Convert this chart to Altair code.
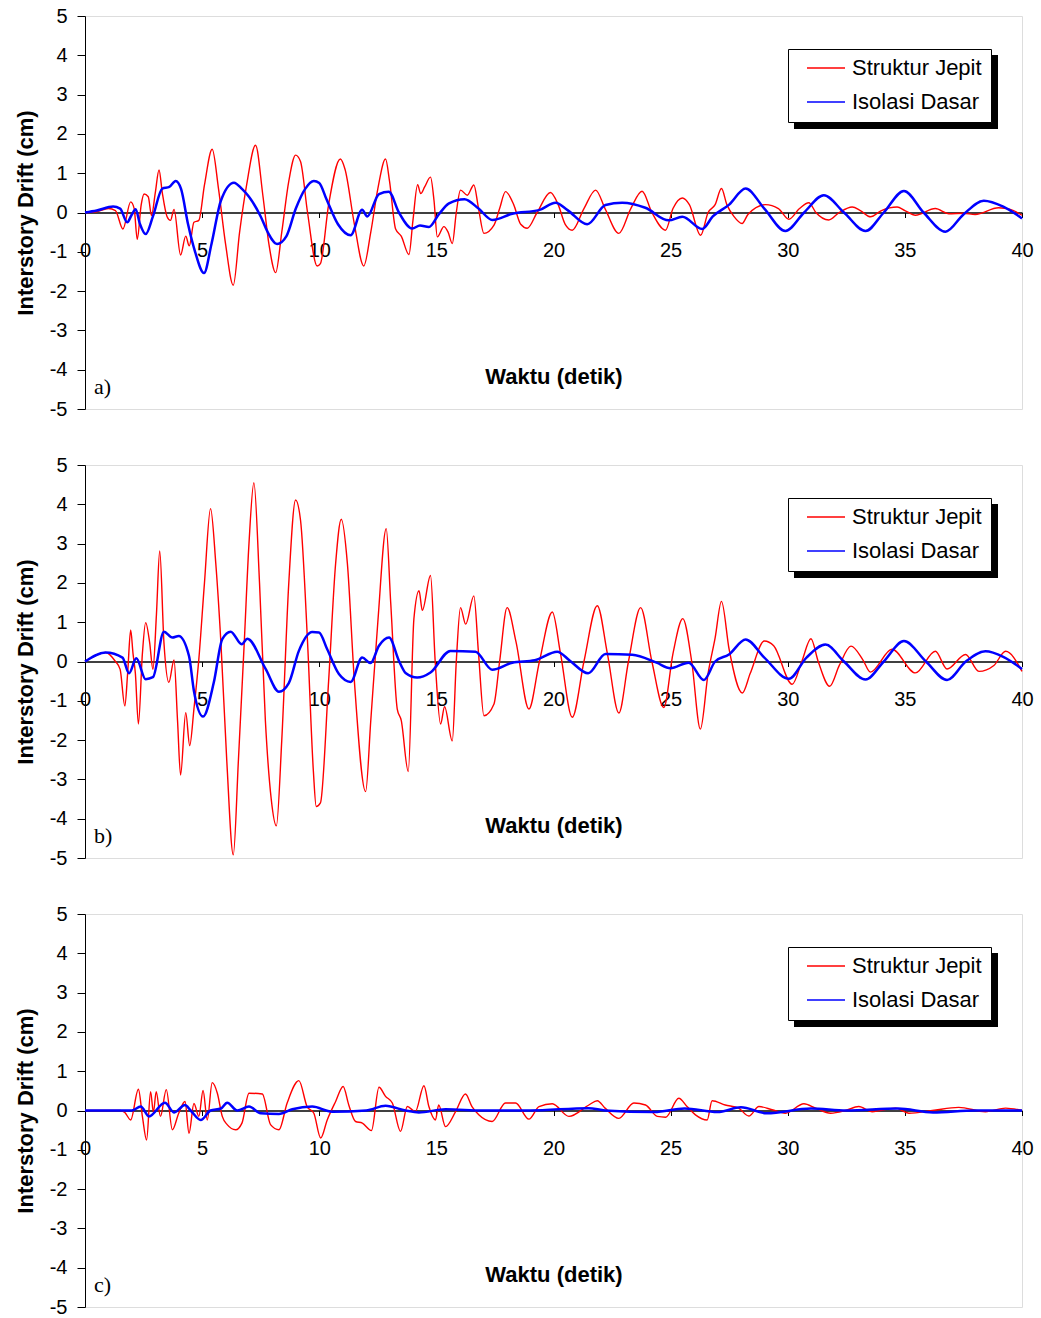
import altair as alt
import pandas as pd

# ---------------- data ----------------
SERIES = ["Struktur Jepit", "Isolasi Dasar"]
COLORS = ["#ff0000", "#0000ff"]
X_TICKS = [0, 5, 10, 15, 20, 25, 30, 35, 40]
Y_TICKS = [-5, -4, -3, -2, -1, 0, 1, 2, 3, 4, 5]
PANEL_TAGS = ["a)", "b)", "c)"]

# panel a) - Struktur Jepit
a_red_t = [0, 0.5, 1.0, 1.3, 1.62, 1.95, 2.1, 2.23, 2.4, 2.52, 2.7, 2.84, 3.0, 3.16, 3.3, 3.5, 3.65, 3.8,
           4.08, 4.3, 4.45, 4.65, 4.86, 5.1, 5.43, 5.7, 6.0, 6.33, 6.6, 6.9, 7.28, 7.6, 7.85, 8.14, 8.4,
           8.7, 8.99, 9.2, 9.5, 9.91, 10.05, 10.4, 10.9, 11.1, 11.5, 11.9, 12.2, 12.5, 12.83, 13.0, 13.26,
           13.5, 13.83, 14.0, 14.2, 14.33, 14.5, 14.75, 14.9, 15.04, 15.32, 15.5, 15.68, 15.85, 16.03,
           16.32, 16.6, 16.8, 17.03, 17.46, 17.7, 17.95, 18.3, 18.6, 18.88, 19.3, 19.87, 20.2, 20.5, 20.8,
           21.3, 21.8, 22.2, 22.79, 23.3, 23.78, 24.2, 24.78, 25.1, 25.5, 25.8, 26.28, 26.6, 26.9, 27.17,
           27.4, 27.7, 28.05, 28.3, 29.05, 29.6, 30.05, 30.5, 30.9, 31.2, 31.75, 32.2, 32.75, 33.1, 33.53,
           34.0, 34.67, 35.0, 35.45, 36.3, 36.87, 37.5, 38.0, 39.0, 39.5, 40.0]
a_red_v = [0, 0.02, 0.1, 0.05, -0.42, 0.27, 0.1, -0.68, 0.2, 0.47, 0.4, -0.08, 0.5, 1.08, 0.5, -0.1, -0.2, 0.08,
           -1.08, -0.6, -0.85, -0.25, -0.2, 0.7, 1.61, 0.6, -0.8, -1.85, -0.5, 0.7, 1.71, 0.4, -0.8, -1.53, -0.5,
           0.8, 1.46, 1.3, 0.0, -1.36, -1.3, 0.2, 1.36, 1.1, -0.3, -1.36, -0.5, 0.6, 1.36, 0.8, -0.42,
           -0.6, -1.07, -0.2, 0.71, 0.48, 0.65, 0.9, 0.3, -0.62, -0.36, -0.5, -0.79, 0.0, 0.57,
           0.44, 0.7, 0.1, -0.53, -0.32, 0.1, 0.53, 0.2, -0.3, -0.4, 0.0, 0.51, 0.2, -0.3, -0.45,
           0.1, 0.57, 0.1, -0.53, 0.1, 0.54, 0.0, -0.45, 0.1, 0.37, 0.2, -0.58, 0.0, 0.2, 0.61,
           0.2, -0.1, -0.28, -0.05, 0.2, 0.1, -0.17, 0.1, 0.25, 0.0, -0.19, 0.0, 0.14, 0.05, -0.11,
           0.05, 0.14, 0.05, -0.07, 0.1, -0.03, -0.02, -0.05, 0.12, 0.08, -0.07]

# panel a) - Isolasi Dasar
a_blue_t = [0, 0.5, 1.2, 1.5, 1.8, 2.0, 2.16, 2.35, 2.59, 2.9, 3.3, 3.6, 3.87, 4.1, 4.4, 4.7, 5.08, 5.4, 5.8,
            6.36, 6.7, 7.0, 7.5, 7.8, 8.2, 8.6, 9.0, 9.4, 9.77, 10.0, 10.3, 10.8, 11.34, 11.83, 12.05, 12.55,
            12.97, 13.4, 13.97, 14.3, 14.68, 15.1, 15.54, 16.2, 16.8, 17.39, 18.24, 19.38, 20.09, 20.6, 21.44,
            22.22, 22.93, 23.92, 24.92, 25.5, 26.35, 26.8, 27.5, 28.2, 29.0, 29.9, 30.7, 31.54, 32.4, 33.32,
            34.1, 34.96, 35.8, 36.73, 37.5, 38.37, 39.2, 40.0]
a_blue_v = [0, 0.05, 0.15, 0.1, -0.25, -0.05, 0.08, -0.3, -0.55, -0.1, 0.61, 0.65, 0.8, 0.6, -0.3, -1.0, -1.54, -0.8, 0.3,
            0.76, 0.6, 0.4, -0.1, -0.5, -0.8, -0.6, 0.1, 0.6, 0.8, 0.75, 0.35, -0.3, -0.58, 0.07, -0.1, 0.47,
            0.53, 0.0, -0.41, -0.33, -0.37, -0.05, 0.23, 0.34, 0.1, -0.19, -0.03, 0.06, 0.25, 0.06, -0.3,
            0.19, 0.25, 0.12, -0.2, -0.11, -0.42, -0.1, 0.2, 0.61, 0.1, -0.47, 0.0, 0.44, 0.0, -0.47,
            0.0, 0.55, 0.0, -0.49, -0.05, 0.3, 0.15, -0.15]

# panel b) - Struktur Jepit
b_red_t = [0, 0.88, 1.3, 1.5, 1.7, 1.82, 1.95, 2.05, 2.15, 2.28, 2.45, 2.59, 2.76, 2.9, 3.05, 3.19, 3.37, 3.58,
           3.8, 3.95, 4.08, 4.3, 4.47, 4.65, 4.86, 5.1, 5.36, 5.58, 5.8, 6.05, 6.33, 6.55, 6.8, 7.0, 7.21,
           7.45, 7.7, 7.95, 8.17, 8.4, 8.7, 8.99, 9.2, 9.5, 9.75, 9.87, 10.05, 10.4, 10.7, 10.94, 11.2,
           11.5, 11.98, 12.2, 12.5, 12.86, 13.05, 13.33, 13.5, 13.8, 14.04, 14.26, 14.4, 14.75, 14.95,
           15.18, 15.35, 15.68, 15.85, 16.03, 16.25, 16.6, 16.8, 17.03, 17.46, 17.7, 18.02, 18.4, 18.95,
           19.4, 19.95, 20.3, 20.8, 21.3, 21.87, 22.3, 22.79, 23.2, 23.72, 24.2, 24.71, 25.1, 25.52, 25.9,
           26.27, 26.6, 26.9, 27.17, 27.5, 28.06, 28.4, 29.0, 29.4, 30.19, 30.6, 30.99, 31.3, 31.79, 32.2,
           32.7, 33.2, 33.53, 34.45, 35.45, 36.3, 36.8, 37.59, 38.16, 38.8, 39.3, 40.0]
b_red_v = [0, 0.23, 0.0, -0.2, -1.13, -0.3, 0.8, 0.2, -0.3, -1.59, 0.2, 0.99, 0.48, -0.2, 1.2, 2.81, 0.48, -0.53,
           0.04, -1.5, -2.89, -1.3, -2.14, -1.21, 0.06, 2.0, 3.89, 2.52, 0.5, -2.5, -4.92, -2.5, 0.5, 3.0, 4.55,
           2.0, -1.5, -3.5, -4.18, -2.0, 2.0, 4.11, 3.6, 0.5, -2.8, -3.69, -3.6, -0.5, 2.5, 3.62, 2.5,
           -0.5, -3.31, -1.5, 1.0, 3.38, 1.5, -1.21, -1.5, -2.8, 1.08, 1.8, 1.3, 2.19, 0.0,
           -1.59, -1.15, -2.02, 0.0, 1.37, 0.95, 1.67, 0.2, -1.38, -1.08, 0.0, 1.37, 0.5, -1.21,
           0.0, 1.26, 0.2, -1.42, 0.0, 1.42, 0.2, -1.31, 0.0, 1.37, 0.0, -1.17, 0.2, 1.09, 0.0,
           -1.72, -0.3, 0.6, 1.53, 0.3, -0.8, -0.3, 0.52, 0.4, -0.58, 0.0, 0.58, 0.0, -0.63, -0.1,
           0.39, 0.05, -0.27, 0.31, -0.29, 0.26, -0.19, 0.18, -0.25, -0.1, 0.26, -0.25]

# panel b) - Isolasi Dasar
b_blue_t = [0, 0.88, 1.6, 1.88, 2.19, 2.59, 2.9, 3.37, 3.73, 4.0, 4.44, 4.65, 5.04, 5.5, 5.86, 6.22, 6.69, 6.93,
            7.71, 8.28, 8.7, 9.13, 9.7, 9.99, 10.34, 10.84, 11.34, 11.83, 12.19, 12.55, 12.98, 13.4, 13.7,
            14.18, 14.75, 15.6, 16.67, 17.38, 18.24, 19.2, 20.16, 20.7, 21.48, 22.22, 23.36, 24.4, 24.99,
            25.77, 26.42, 26.9, 27.49, 28.2, 29.0, 30.05, 30.8, 31.61, 32.4, 33.32, 34.1, 34.96, 35.9, 36.8,
            37.6, 38.44, 39.2, 40.0]
b_blue_v = [0, 0.23, 0.1, -0.3, 0.08, -0.45, -0.4, 0.76, 0.61, 0.65, 0.14, -0.75, -1.4, -0.53, 0.57, 0.76, 0.44, 0.58,
            -0.19, -0.77, -0.55, 0.27, 0.75, 0.74, 0.31, -0.32, -0.52, 0.1, -0.04, 0.4, 0.61, 0.02, -0.3,
            -0.41, -0.28, 0.27, 0.25, -0.21, -0.03, 0.03, 0.25, 0.02, -0.3, 0.19, 0.17, -0.03, -0.17,
            -0.03, -0.47, 0.0, 0.18, 0.56, 0.1, -0.44, 0.1, 0.43, 0.0, -0.46, 0.0, 0.52, 0.0, -0.47,
            0.0, 0.26, 0.12, -0.19]

# panel c) - Struktur Jepit
c_red_t = [0, 1.5, 1.7, 1.95, 2.28, 2.45, 2.63, 2.8, 2.92, 3.04, 3.22, 3.47, 3.73, 4.0, 4.27, 4.44, 4.65, 4.86,
           5.04, 5.22, 5.43, 5.65, 5.86, 6.07, 6.43, 6.7, 7.0, 7.57, 7.92, 8.28, 8.63, 9.13, 9.48, 9.77, 10.06,
           10.34, 10.7, 11.02, 11.26, 11.55, 11.84, 12.23, 12.55, 12.83, 13.12, 13.47, 13.76, 14.1, 14.47,
           14.68, 14.96, 15.1, 15.39, 15.82, 16.24, 16.52, 16.81, 17.38, 17.95, 18.38, 18.95, 19.38, 19.95,
           20.66, 21.51, 21.87, 22.2, 22.79, 23.43, 23.93, 24.43, 24.79, 25.35, 25.7, 26.06, 26.56, 26.77,
           27.33, 27.9, 28.34, 28.77, 29.33, 29.9, 30.69, 31.19, 31.83, 32.47, 33.03, 33.6, 34.6, 35.17,
           36.17, 37.3, 38.44, 39.3, 40.0]
c_red_v = [0, 0.0, -0.05, -0.24, 0.54, -0.15, -0.75, 0.48, -0.05, 0.48, -0.15, 0.53, -0.49, -0.07, 0.23, -0.58, 0.18, -0.15,
           0.51, -0.24, 0.71, 0.44, -0.15, -0.36, -0.49, -0.32, 0.44, 0.42, -0.36, -0.49, 0.19, 0.76, 0.1, -0.07, -0.7,
           -0.24, 0.23, 0.61, 0.14, -0.28, -0.32, -0.51, 0.59, 0.36, 0.19, -0.53, 0.1, -0.03, 0.63,
           0.1, -0.24, 0.14, -0.41, -0.03, 0.42, 0.1, -0.11, -0.28, 0.19, 0.19, -0.22, 0.1, 0.17,
           -0.15, 0.14, 0.25, 0.06, -0.2, 0.19, 0.14, -0.15, -0.17, 0.31, 0.1, -0.11, -0.24, 0.25,
           0.14, 0.06, -0.14, 0.1, 0.02, -0.07, 0.17, 0.06, -0.07, 0.0, 0.1, -0.03, 0.06, -0.07,
           0.0, 0.08, -0.03, 0.06, 0.0]

# panel c) - Isolasi Dasar
c_blue_t = [0, 2.0, 2.38, 2.73, 3.41, 3.81, 4.27, 4.51, 4.94, 5.36, 5.8, 6.07, 6.5, 7.0, 7.5, 8.28, 8.85, 9.7,
            10.55, 12.0, 12.83, 13.68, 14.25, 15.39, 17.0, 19.0, 21.5, 22.2, 24.3, 25.6, 27.0, 28.0, 29.1,
            31.0, 32.5, 34.7, 36.2, 38.0, 40.0]
c_blue_v = [0, 0.0, 0.1, -0.15, 0.2, -0.05, 0.14, 0.0, -0.24, 0.0, 0.05, 0.2, 0.0, 0.1, -0.07, -0.09, 0.03, 0.1,
            -0.03, 0.0, 0.12, 0.0, -0.05, 0.03, 0.0, 0.0, 0.06, 0.0, -0.04, 0.05, -0.04, 0.08, -0.07,
            0.05, 0.0, 0.05, -0.05, 0.0, 0.0]

# ---------------- chart ----------------
W, H = 937, 393
FONT = "Liberation Sans"


def panel(t_red, v_red, t_blue, v_blue, tag):
    df = pd.concat([
        pd.DataFrame({"t": t_red, "v": v_red, "s": SERIES[0]}),
        pd.DataFrame({"t": t_blue, "v": v_blue, "s": SERIES[1]}),
    ], ignore_index=True)

    x = alt.X("t:Q",
              scale=alt.Scale(domain=[0, 40], nice=False, zero=False),
              axis=alt.Axis(values=X_TICKS, labelExpr="'' + datum.value", offset=-H / 2,
                            labelFlush=False, labelOverlap=False, tickSize=5, tickColor="black",
                            domainColor="black", domainWidth=1.3, labelFont=FONT, labelFontSize=20,
                            labelColor="black", labelPadding=23, grid=False,
                            title="Waktu (detik)", titleFont=FONT, titleFontSize=22,
                            titleFontWeight="bold", titleColor="black", titleBaseline="middle",
                            titleY=164))
    y = alt.Y("v:Q",
              scale=alt.Scale(domain=[-5, 5], nice=False),
              axis=alt.Axis(values=Y_TICKS, labelExpr="'' + datum.value", tickSize=8,
                            tickColor="black", domainColor="black", labelFont=FONT,
                            labelFontSize=20, labelColor="black", labelPadding=10, grid=False,
                            title="Interstory Drift (cm)", titleFont=FONT, titleFontSize=22,
                            titleFontWeight="bold", titleColor="black", titlePadding=12))
    color = alt.Color("s:N", scale=alt.Scale(domain=SERIES, range=COLORS),
                      legend=alt.Legend(title=None, orient="none", legendX=703, legendY=33,
                                        direction="vertical", symbolType="stroke",
                                        symbolSize=1444, symbolStrokeWidth=1.5, clipHeight=20,
                                        rowPadding=12, padding=9, strokeColor="black",
                                        fillColor="white", labelFont=FONT, labelFontSize=22,
                                        labelColor="black", symbolOffset=9, labelOffset=6,
                                        labelLimit=300))

    shadow = alt.Chart(pd.DataFrame({"k": [0]})).mark_rect(color="black").encode(
        x=alt.value(709), x2=alt.value(913), y=alt.value(39), y2=alt.value(113))

    base = alt.Chart(df)
    red = base.transform_filter(alt.datum.s == SERIES[0]).mark_line(
        strokeWidth=1.4, interpolate="monotone").encode(x=x, y=y, color=color, order="t:Q")
    blue = base.transform_filter(alt.datum.s == SERIES[1]).mark_line(
        strokeWidth=2.5, interpolate="monotone").encode(x=x, y=y, color=color, order="t:Q")

    lab = alt.Chart(pd.DataFrame({"t": [0.38], "v": [-4.62], "txt": [tag]})).mark_text(
        align="left", baseline="alphabetic", font="Liberation Serif", fontSize=22,
        color="black").encode(x=x, y=y, text="txt:N")

    return alt.layer(shadow, red, blue, lab).properties(width=W, height=H)


chart = alt.vconcat(
    panel(a_red_t, a_red_v, a_blue_t, a_blue_v, PANEL_TAGS[0]),
    panel(b_red_t, b_red_v, b_blue_t, b_blue_v, PANEL_TAGS[1]),
    panel(c_red_t, c_red_v, c_blue_t, c_blue_v, PANEL_TAGS[2]),
    spacing=34,
).resolve_legend(color="independent").properties(
    padding={"left": 13, "top": 5, "right": 5, "bottom": 3},
    background="white",
).configure_view(stroke="black", strokeWidth=1.5).configure(font=FONT)

chart.save("out.html", embed_options={"renderer": "svg", "actions": False})
